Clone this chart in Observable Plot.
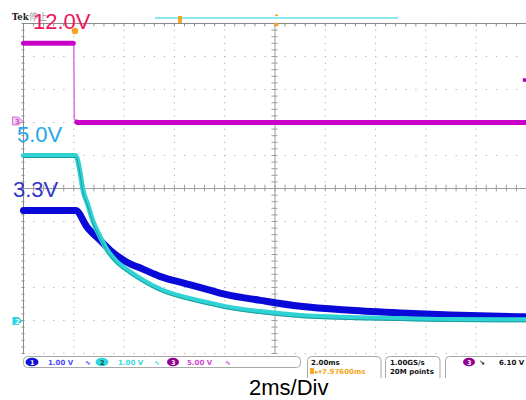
<!DOCTYPE html>
<html><head><meta charset="utf-8">
<script src="https://cdn.jsdelivr.net/npm/d3@7"></script>
<script src="https://cdn.jsdelivr.net/npm/@observablehq/plot@0.6"></script>
<style>
html,body{margin:0;padding:0;background:#fff;}
#wrap{position:relative;width:526px;height:400px;overflow:hidden;background:#fff;}
#wrap svg{position:absolute;left:0;top:0;}
</style></head><body><div id="wrap"></div>
<script>
// ---- scope settings ----
const channelNames = ["CH1 3.3V", "CH2 5.0V", "CH3 12.0V"];
const voltsPerDiv = [1, 1, 5];
const groundDiv = [-4, -4, 2];
const timePerDivMs = 2;

// ---- CH1 (3.3 V rail, blue) ----
const timeCh1 = [0, 2.07, 2.54, 3.06, 3.46, 4.06, 4.77, 5.45, 6.44, 7.44, 8.03, 9.42, 11.01, 13.0, 14.99, 16.98, 20];
const voltCh1 = [3.33, 3.33, 2.82, 2.42, 2.12, 1.79, 1.55, 1.33, 1.12, 0.91, 0.79, 0.61, 0.43, 0.31, 0.23, 0.17, 0.11];

// ---- CH2 (5.0 V rail, cyan) ----
const timeCh2 = [0, 2.07, 2.27, 2.35, 2.54, 2.78, 3.06, 3.34, 3.66, 4.14, 4.77, 5.45, 6.44, 7.44, 8.03, 9.42, 11.01, 13.0, 14.99, 16.98, 20];
const voltCh2 = [5.0, 5.0, 4.39, 4.0, 3.55, 2.97, 2.52, 2.12, 1.82, 1.52, 1.21, 0.94, 0.70, 0.52, 0.42, 0.27, 0.15, 0.09, 0.06, 0.03, 0.02];

// ---- CH3 (12.0 V input, magenta) ----
const timeCh3 = [0, 1.98, 2.0, 2.02, 2.12, 2.16, 20];
const voltCh3 = [12.0, 12.0, 11.8, 0.5, 0.05, 0, 0];

// ---- grid ----
const majorTimes = [2, 4, 6, 8, 12, 14, 16, 18];
const majorDivs = [-4, -3, -2, -1, 1, 2, 3, 4];
const minorTimes = d3.range(0, 20.001, 0.4);
const minorDivs = d3.range(-5, 5.001, 0.2);

function build(ts, vs, ch) {
  return ts.map((t, i) => ({t, v: vs[i], div: groundDiv[ch] + vs[i] / voltsPerDiv[ch], name: channelNames[ch]}));
}
const ch1 = build(timeCh1, voltCh1, 0);
const ch2 = build(timeCh2, voltCh2, 1);
const ch3 = build(timeCh3, voltCh3, 2);

const grid = "#b4b4b4";
const frameC = "#8c8c8c";

const chart = Plot.plot({
  width: 526, height: 356,
  marginLeft: 23, marginRight: 0, marginTop: 23, marginBottom: 3,
  x: {domain: [0, 20], axis: null},
  y: {domain: [-5, 5], axis: null},
  style: {background: "transparent"},
  marks: [
    Plot.ruleX(majorTimes, {stroke: grid, strokeDasharray: "1.3,5.3"}),
    Plot.ruleY(majorDivs, {stroke: grid, strokeDasharray: "1.3,8.76"}),
    Plot.ruleY([-5], {stroke: grid, strokeDasharray: "1.3,8.76"}),
    Plot.ruleX([10], {stroke: "#9c9c9c"}),
    Plot.ruleY([0], {stroke: "#9c9c9c"}),
    Plot.ruleX(minorTimes, {y1: -0.1, y2: 0.1, stroke: "#9c9c9c"}),
    Plot.ruleY(minorDivs, {x1: 9.88, x2: 10.12, stroke: "#9c9c9c"}),
    Plot.ruleY([5], {stroke: frameC}),
    Plot.ruleX([0], {stroke: frameC}),
    Plot.ruleX(minorTimes, {y1: 5, y2: 4.9, stroke: frameC}),
    Plot.ruleY(minorDivs, {x1: -0.06, x2: 0.06, stroke: frameC}),
    // CH3
    Plot.line(ch3, {x: "t", y: "div", stroke: "#e070e0", strokeWidth: 1.5}),
    Plot.line(ch3.filter(d => d.t <= 1.98), {x: "t", y: "div", stroke: "#c800c8", strokeWidth: 5}),
    Plot.line(ch3.filter(d => d.t >= 2.12), {x: "t", y: "div", stroke: "#c800c8", strokeWidth: 5}),
    // CH1
    Plot.line(ch1, {x: "t", y: "div", stroke: "#0a0ad8", strokeWidth: 7, curve: "monotone-x"}),
    // CH2
    Plot.line(ch2, {x: "t", y: "div", stroke: "#2fd3d6", strokeWidth: 5, curve: "monotone-x"}),
    Plot.line(ch2, {x: "t", y: "div", stroke: "#1b8c8c", strokeWidth: 0.8, dy: 2, curve: "monotone-x"})
  ]
});
document.getElementById("wrap").appendChild(chart);

const sb = `
<svg xmlns="http://www.w3.org/2000/svg" width="526" height="400" style="pointer-events:none">
  <g font-family="DejaVu Serif" font-size="8.5" font-weight="bold"><text x="12" y="20" fill="#222">Tek</text></g>
  <text x="29" y="20" font-family="Noto Sans CJK SC" font-size="9" fill="#9a9a9a">停止</text>
  <line x1="155" x2="398" y1="18" y2="18" stroke="#66e0e8" stroke-width="1.5"/>
  <rect x="178" y="16" width="4" height="7" fill="#f5a623"/>
  <rect x="275" y="14.5" width="3" height="1.6" fill="#f5a623"/>
  <circle cx="276.5" cy="24.5" r="2" fill="#f5a623"/>
  <circle cx="75" cy="31" r="3.3" fill="#f5a623"/>
  <circle cx="524.5" cy="80" r="2" fill="#c000c0"/>
  <path d="M12.5,117 h6 l4,4 l-4,4 h-6 z" fill="#f3d0f3" stroke="#c850c8" stroke-width="0.8"/>
  <text x="15" y="123.5" font-family="DejaVu Sans" font-size="7" font-weight="bold" fill="#c850c8">3</text>
  <path d="M12.5,317 h6 l4,4 l-4,4 h-6 z" fill="#2cd4e0"/>
  <text x="15" y="323.5" font-family="DejaVu Sans" font-size="7" font-weight="bold" fill="#fff">2</text>
  <g font-family="Liberation Sans, Arial, sans-serif" font-size="22">
    <text x="33" y="29" fill="#ee1660">12.0V</text>
    <text x="17" y="142" fill="#1ea8ec">5.0V</text>
    <text x="13" y="197" fill="#3535c8">3.3V</text>
    <text x="249" y="395" fill="#000">2ms/Div</text>
  </g>
  <g fill="none" stroke="#a8a8a8" stroke-width="1">
    <rect x="23.5" y="356.5" width="277" height="11" rx="4"/>
    <path d="M307.5,378 V360.5 a4,4 0 0 1 4,-4 H377 a4,4 0 0 1 4,4 V378"/>
    <path d="M385.5,378 V360.5 a4,4 0 0 1 4,-4 H436 a4,4 0 0 1 4,4 V378"/>
    <path d="M445.5,378 V360.5 a4,4 0 0 1 4,-4 H540"/>
  </g>
  <g font-family="DejaVu Sans" font-size="7" font-weight="bold">
    <ellipse cx="32" cy="362" rx="6.5" ry="4.3" fill="#1212d0"/>
    <text x="30" y="364.5" fill="#fff" font-size="6.5">1</text>
    <text x="48" y="365" fill="#4848ff">1.00 V</text>
    <text x="85" y="365" fill="#4848ff">∿</text>
    <ellipse cx="102" cy="362" rx="6.5" ry="4.3" fill="#2ed6e0"/>
    <text x="100" y="364.5" fill="#0a4a4a" font-size="6.5">2</text>
    <text x="118" y="365" fill="#3ad8dc">1.00 V</text>
    <text x="154" y="365" fill="#3ad8dc">∿</text>
    <ellipse cx="173" cy="362" rx="6" ry="4.3" fill="#900090"/>
    <text x="171" y="364.5" fill="#fff" font-size="6.5">3</text>
    <text x="187" y="365" fill="#d048d0">5.00 V</text>
    <text x="225" y="365" fill="#d048d0">∿</text>
    <text x="311" y="365" fill="#111">2.00ms</text>
    <rect x="310" y="368" width="4" height="6" fill="#f5a623"/>
    <text x="315" y="374" fill="#f5a623">▸▾7.97600ms</text>
    <text x="390" y="365" fill="#111">1.00GS/s</text>
    <text x="390" y="374" fill="#111">20M points</text>
    <ellipse cx="469" cy="362" rx="6" ry="4.3" fill="#900090"/>
    <text x="467" y="364.5" fill="#fff" font-size="6.5">3</text>
    <text x="479" y="365" fill="#111">↘</text>
    <text x="499" y="365" fill="#111">6.10 V</text>
  </g>
</svg>`;
document.getElementById("wrap").insertAdjacentHTML("beforeend", sb);
</script></body></html>
